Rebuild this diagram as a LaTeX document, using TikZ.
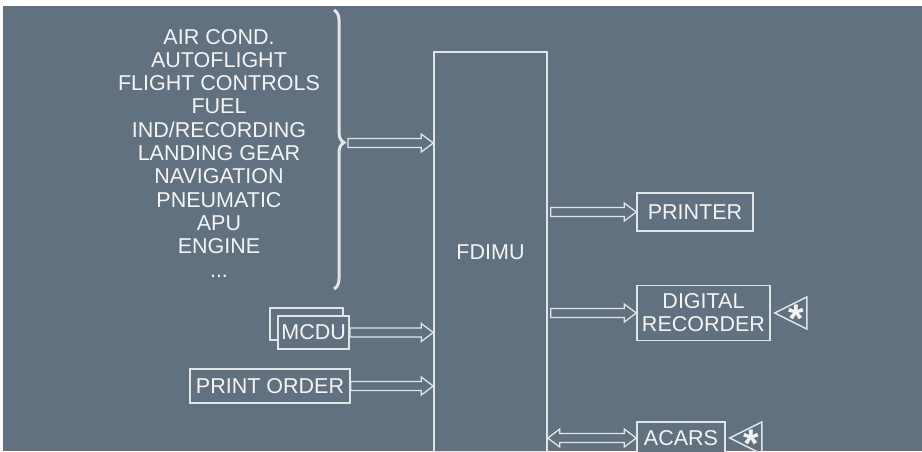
\documentclass[tikz,border=0pt]{standalone}
\usepackage{fontspec}
\setmainfont{Liberation Sans}
\usetikzlibrary{positioning, calc, decorations.pathreplacing}
\definecolor{panel}{RGB}{98,113,127}
\definecolor{wire}{RGB}{226,229,232}
\definecolor{ink}{RGB}{244,244,244}

\tikzset{
  blk/.style={draw=wire, line width=1.5pt, fill=panel, text=ink, inner sep=0pt,
    font=\fontsize{21.5}{23}\selectfont, align=center},
  fat/.style={draw=wire, line width=1.3pt, line join=miter, to path={
    let \p1=(\tikztostart), \p2=(\tikztotarget) in
    (\x1,\y1+4.5pt) -- (\x2-12pt,\y1+4.5pt) -- (\x2-12pt,\y1+9pt) -- (\x2,\y1)
    -- (\x2-12pt,\y1-9pt) -- (\x2-12pt,\y1-4.5pt) -- (\x1,\y1-4.5pt) -- cycle}},
  fatboth/.style={draw=wire, line width=1.3pt, line join=miter, to path={
    let \p1=(\tikztostart), \p2=(\tikztotarget) in
    (\x1,\y1) -- (\x1+12pt,\y1+9pt) -- (\x1+12pt,\y1+4.5pt) -- (\x2-12pt,\y1+4.5pt)
    -- (\x2-12pt,\y1+9pt) -- (\x2,\y1) -- (\x2-12pt,\y1-9pt) -- (\x2-12pt,\y1-4.5pt)
    -- (\x1+12pt,\y1-4.5pt) -- (\x1+12pt,\y1-9pt) -- cycle}},
  flag/.style={draw=wire, line width=1.5pt, line join=miter},
  flagtxt/.style={text=ink, inner sep=0pt, font=\fontsize{40}{40}\bfseries\selectfont},
}
\newcommand{\flagstar}{\raisebox{-0.26em}[0.456em][0pt]{*}}

\begin{document}
\begin{tikzpicture}[x=1pt, y=-1pt]
  \useasboundingbox (0,0) rectangle (922,451);
  \fill[panel] (3,6) rectangle (922,451);

  % aircraft systems feeding the unit
  \node[text=ink, font=\fontsize{21.5}{23.3}\selectfont, align=center] (systems)
    at (219,153) {AIR COND.\\AUTOFLIGHT\\FLIGHT CONTROLS\\FUEL\\IND/RECORDING\\
    LANDING GEAR\\NAVIGATION\\PNEUMATIC\\APU\\ENGINE\\...};
  \draw[wire, line width=3pt, decorate, decoration={brace, amplitude=10pt, aspect=0.475}]
    (334,10) -- (334,289);
  \coordinate (tip) at (348,143);

  \node[blk, minimum width=113, minimum height=400] (fdimu) at (490.5,252) {FDIMU};

  % inputs
  \node[blk, minimum width=73, minimum height=32] (mcduback) at (306.5,324) {};
  \node[blk, minimum width=71, minimum height=33] (mcdu) at (313.7,332.5) {MCDU};
  \node[blk, minimum width=160, minimum height=34] (porder) at (270,386) {PRINT ORDER};

  % outputs
  \node[blk, minimum width=116, minimum height=38] (printer) at (695,212) {PRINTER};
  \node[blk, minimum width=133, minimum height=55, below=53pt of printer.south west,
    anchor=north west] (dr) {DIGITAL\\RECORDER};
  \node[blk, minimum width=88, minimum height=32, below=80pt of dr.south west,
    anchor=north west] (acars) {ACARS};

  \draw[fat] (tip) to (fdimu.west |- tip);
  \draw[fat] (mcdu.east) to (fdimu.west |- mcdu.east);
  \draw[fat] (porder.east) to (fdimu.west |- porder.east);
  \draw[fat] ([xshift=3pt]fdimu.east |- printer.west) to (printer.west);
  \draw[fat] ([xshift=3pt]fdimu.east |- dr.west) to (dr.west);
  \draw[fatboth] (fdimu.east |- acars.west) to (acars.west);

  % flags
  \draw[flag] ([xshift=4pt]dr.east) -- ++(32,-16) -- ++(0,32) -- cycle;
  \node[flagtxt] (drflag) at ([xshift=26pt]dr.east) {\flagstar};
  \draw[flag] ([xshift=4pt]acars.east) -- ++(32,-16) -- ++(0,32) -- cycle;
  \node[flagtxt] (acarsflag) at ([xshift=26pt]acars.east) {\flagstar};
\end{tikzpicture}
\end{document}
